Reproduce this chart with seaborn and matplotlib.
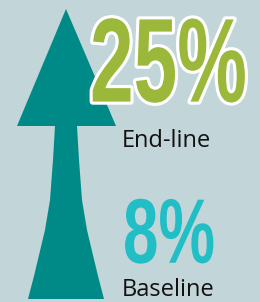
import matplotlib
matplotlib.use("Agg")
import matplotlib.pyplot as plt
import matplotlib.patheffects as pe
from matplotlib.transforms import Affine2D
import seaborn as sns

# Datos de la infografía
etiquetas = ["Baseline", "End-line"]
valores = [8, 25]
colores_valor = ["#22bec6", "#9bb83b"]

# Contorno de la flecha (coordenadas en píxeles de la imagen)
punta_x = [66, 17, 55, 53, 50, 45, 40, 34, 28, 104, 98, 92, 87, 82, 79, 77, 116]
punta_y = [9, 126, 126, 160, 200, 230, 251, 276, 299, 299, 276, 251, 230, 200, 160, 126, 126]

fondo = "#c2d5d8"
teal = "#008a87"

sns.set_theme(style="white", rc={"figure.facecolor": fondo, "axes.facecolor": fondo})
plt.rcParams["font.family"] = ["Open Sans", "DejaVu Sans"]


class Estirar(pe.AbstractPathEffect):
    """Alarga el texto en vertical (aspecto de fuente condensada)."""

    def __init__(self, sy, efectos):
        super().__init__()
        self.sy = sy
        self.efectos = efectos

    def draw_path(self, renderer, gc, tpath, affine, rgbFace=None):
        y0 = tpath.transformed(affine).get_extents().y0
        aff = affine + Affine2D().translate(0, -y0).scale(1, self.sy).translate(0, y0)
        for e in self.efectos:
            e.draw_path(renderer, gc, tpath, aff, rgbFace)


fig = plt.figure(figsize=(2.6, 3.02), dpi=100)
ax = fig.add_axes([0, 0, 1, 1])
ax.set_xlim(0, 260)
ax.set_ylim(302, 0)
ax.axis("off")

ax.fill(punta_x, punta_y, color=teal, lw=0)

fuente_num = ["Liberation Sans Narrow", "Liberation Sans"]

# posiciones: (x izq, x der, línea base, tamaño de altura)
cajas = [(123, 215, 263, 66), (90, 247, 102, 86)]
textos = []
for i, v in enumerate(valores):
    x_izq, x_der, base, tam = cajas[i]
    t = ax.text(x_izq, base, f"{v}%", fontsize=tam, fontweight="bold",
                family=fuente_num, color=colores_valor[i], ha="left", va="baseline")
    textos.append((t, x_der - x_izq, tam, i))

fig.canvas.draw()
for t, ancho, tam, i in textos:
    nuevo = tam * ancho / t.get_window_extent().width
    t.set_fontsize(nuevo)
    if i == 1:
        efectos = [pe.Stroke(linewidth=4.5, foreground="white"), pe.Normal()]
    else:
        efectos = [pe.Normal()]
    t.set_path_effects([Estirar(tam / nuevo, efectos)])

ax.text(122, 147, etiquetas[1], fontsize=17, color="#111111", ha="left", va="baseline")
ax.text(122, 301.5, etiquetas[0], fontsize=17, color="#111111", ha="left", va="bottom")

fig.savefig("out.png", dpi=100, facecolor=fondo)
